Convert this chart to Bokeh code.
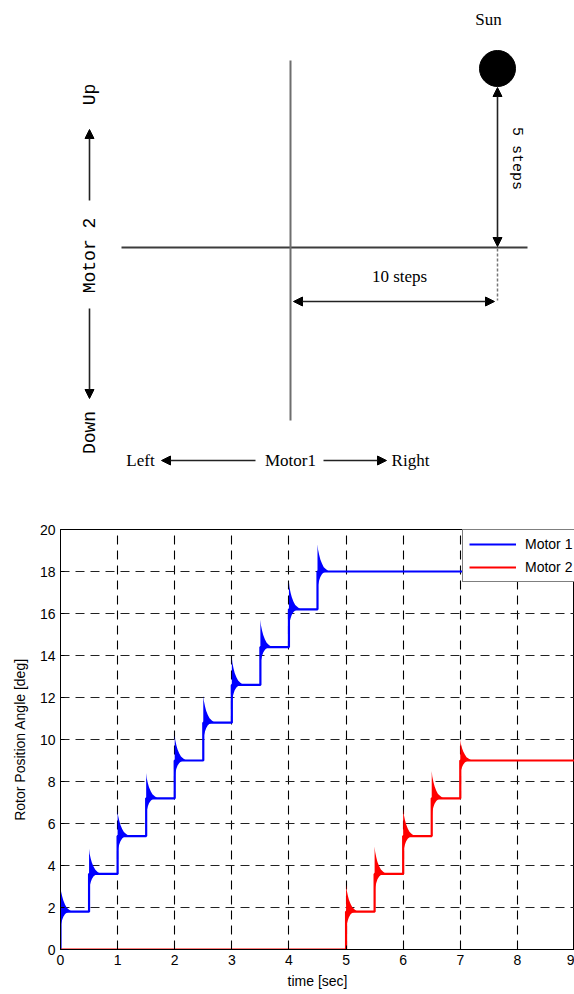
import math
from bokeh.plotting import figure
from bokeh.layouts import column
from bokeh.models import (Range1d, Arrow, NormalHead, Legend, LegendItem, FixedTicker)
from bokeh.embed import file_html
from bokeh.resources import INLINE
from bokeh.core.properties import value

# ---------------- chart data ----------------
step_times_m1 = [0.0, 0.5, 1.0, 1.5, 2.0, 2.5, 3.0, 3.5, 4.0, 4.5]
levels_m1 = [1.8, 3.6, 5.4, 7.2, 9.0, 10.8, 12.6, 14.4, 16.2, 18.0]
peaks_m1 = [3.0, 4.8, 6.6, 8.4, 10.2, 12.1, 13.9, 15.7, 17.5, 19.3]
step_times_m2 = [5.0, 5.5, 6.0, 6.5, 7.0]
levels_m2 = [1.8, 3.6, 5.4, 7.2, 9.0]
peaks_m2 = [3.1, 4.9, 6.7, 8.5, 10.0]
t_end = 9.0

# ringing envelope after each step (offset from settled level vs time after the step)
ring_dt = [0.0, 0.01, 0.03, 0.05, 0.08, 0.11, 0.15, 0.20]
ring_upper = [1.25, 1.0, 0.75, 0.55, 0.35, 0.2, 0.1, 0.0]
ring_lower = [-1.0, -0.6, -0.4, -0.25, -0.12, -0.05, 0.0, 0.0]

x_ticks = [0, 1, 2, 3, 4, 5, 6, 7, 8, 9]
y_ticks = [0, 2, 4, 6, 8, 10, 12, 14, 16, 18, 20]
series_names = ["Motor 1", "Motor 2"]
series_colors = ["#0000FF", "#FF0000"]

# ---------------- diagram content ----------------
steps_right = 10
steps_up = 5
# layout of the sketch (page pixels)
origin = (290, 247)
px_per_step_x = 20.7
px_per_step_y = 35.8
sun_r = 18

SERIF = value("Liberation Serif")
MONO = value("Liberation Mono")
SANS = "Liberation Sans"

W = 574
LEFT = 60

# ================= diagram figure =================
d = figure(width=W, height=500, x_range=Range1d(LEFT, W), y_range=Range1d(500, 0),
           output_backend="svg", toolbar_location=None, min_border=0,
           min_border_left=LEFT, min_border_right=0,
           x_axis_location=None, y_axis_location=None)
d.outline_line_color = None
d.grid.visible = False

ox, oy = origin
sun_x = ox + steps_right * px_per_step_x
sun_y = oy - steps_up * px_per_step_y

# main cross
d.segment(x0=[121], y0=[oy], x1=[527], y1=[oy], line_color="#3c3c3c", line_width=2)
d.segment(x0=[ox], y0=[60], x1=[ox], y1=[420], line_color="#6e6e6e", line_width=2)
# dashed projection of the sun
d.segment(x0=[sun_x], y0=[oy + 1], x1=[sun_x], y1=[oy + 53], line_color="#777777",
          line_width=1.5, line_dash="3 2")
# sun
d.circle(x=[sun_x], y=[sun_y], radius=sun_r, fill_color="black", line_color="black")


def head():
    return NormalHead(size=9, fill_color="black", line_color="black")


arrows = [
    # (x0, y0, x1, y1, start_head, end_head)
    (89, 200, 89, 129, False, True),          # Up
    (89, 308, 89, 398, False, True),          # Down
    (255, 460, 161, 460, False, True),        # Left
    (323, 460, 386, 460, False, True),        # Right
    (ox + 3, oy + 54, sun_x - 3, oy + 54, True, True),   # 10 steps
    (sun_x, sun_y + sun_r + 1, sun_x, oy - 1, True, True),  # 5 steps
]
for x0, y0, x1, y1, sh, eh in arrows:
    d.add_layout(Arrow(x_start=x0, y_start=y0, x_end=x1, y_end=y1,
                       start=head() if sh else None, end=head() if eh else None,
                       line_color="#222222", line_width=1.6))

d.text(x=[488, 399, 140, 290, 410], y=[19, 276, 460, 460, 460],
       text=["Sun", f"{steps_right} steps", "Left", "Motor1", "Right"],
       text_font=SERIF, text_font_size="17px", text_color="black",
       text_align="center", text_baseline="middle")
d.text(x=[89, 89, 89], y=[94, 255, 432], text=["Up", "Motor 2", "Down"],
       angle=math.pi / 2, text_font=MONO, text_font_size="18px", text_color="black",
       text_align="center", text_baseline="middle")
d.text(x=[516], y=[158], text=[f"{steps_up} steps"], angle=-math.pi / 2,
       text_font=MONO, text_font_size="15px", text_color="black",
       text_align="center", text_baseline="middle")

# ================= chart figure =================
p = figure(width=W, height=494, x_range=Range1d(0, 9), y_range=Range1d(0, 20),
           output_backend="svg", toolbar_location=None,
           min_border_left=LEFT, min_border_right=0, min_border_top=29, min_border_bottom=45)
p.outline_line_color = "black"
p.outline_line_width = 1

p.xaxis.ticker = FixedTicker(ticks=x_ticks)
p.yaxis.ticker = FixedTicker(ticks=y_ticks)
for ax in (p.xaxis, p.yaxis):
    ax.major_label_text_font = SANS
    ax.major_label_text_font_size = "14px"
    ax.major_label_text_color = "black"
    ax.axis_label_text_font = SANS
    ax.axis_label_text_font_size = "14px"
    ax.axis_label_text_font_style = "normal"
    ax.axis_label_text_color = "black"
    ax.axis_line_color = "black"
    ax.major_tick_in = 4
    ax.major_tick_out = 0
    ax.major_tick_line_color = "black"
    ax.minor_tick_in = 0
    ax.minor_tick_out = 0
p.xaxis.axis_label = "time [sec]"
p.yaxis.axis_label = "Rotor Position Angle [deg]"
p.xaxis.major_label_standoff = 5
p.xaxis.axis_label_standoff = 5
p.yaxis.major_label_standoff = 5
p.yaxis.axis_label_standoff = 9

p.xgrid.grid_line_color = "#000000"
p.ygrid.grid_line_color = "#222222"
for g in (p.xgrid, p.ygrid):
    g.grid_line_dash = "9 6"
    g.grid_line_width = 1.1


def step_path(times, levels, start_level=0.0):
    xs, ys = [0.0], [start_level]
    prev = start_level
    for t, lv in zip(times, levels):
        xs += [t, t]
        ys += [prev, lv]
        prev = lv
    xs.append(t_end)
    ys.append(prev)
    return xs, ys


renderers = []
for times, levels, peaks, color in [(step_times_m1, levels_m1, peaks_m1, series_colors[0]),
                                     (step_times_m2, levels_m2, peaks_m2, series_colors[1])]:
    for t, lv, pk in zip(times, levels, peaks):
        k = (pk - lv) / ring_upper[0]
        xs = [t + dt for dt in ring_dt]
        up = [lv + k * u for u in ring_upper]
        lo = [lv + k * l for l in ring_lower]
        p.varea(x=xs, y1=lo, y2=up, fill_color=color, fill_alpha=1.0)
    xs, ys = step_path(times, levels)
    r = p.line(xs, ys, line_color=color, line_width=2.2)
    renderers.append(r)

legend = Legend(items=[LegendItem(label=n, renderers=[r]) for n, r in zip(series_names, renderers)],
                location=(402, 367), label_text_font=SANS, label_text_font_size="14px",
                label_text_color="black", glyph_width=47, glyph_height=16, label_height=16,
                label_width=75, spacing=7, padding=6, margin=0, border_line_color="black",
                border_line_width=1, background_fill_color="white", background_fill_alpha=1.0,
                label_standoff=9)
p.add_layout(legend)

layout = column(d, p)
open("out.html", "w").write(file_html(layout, INLINE))
